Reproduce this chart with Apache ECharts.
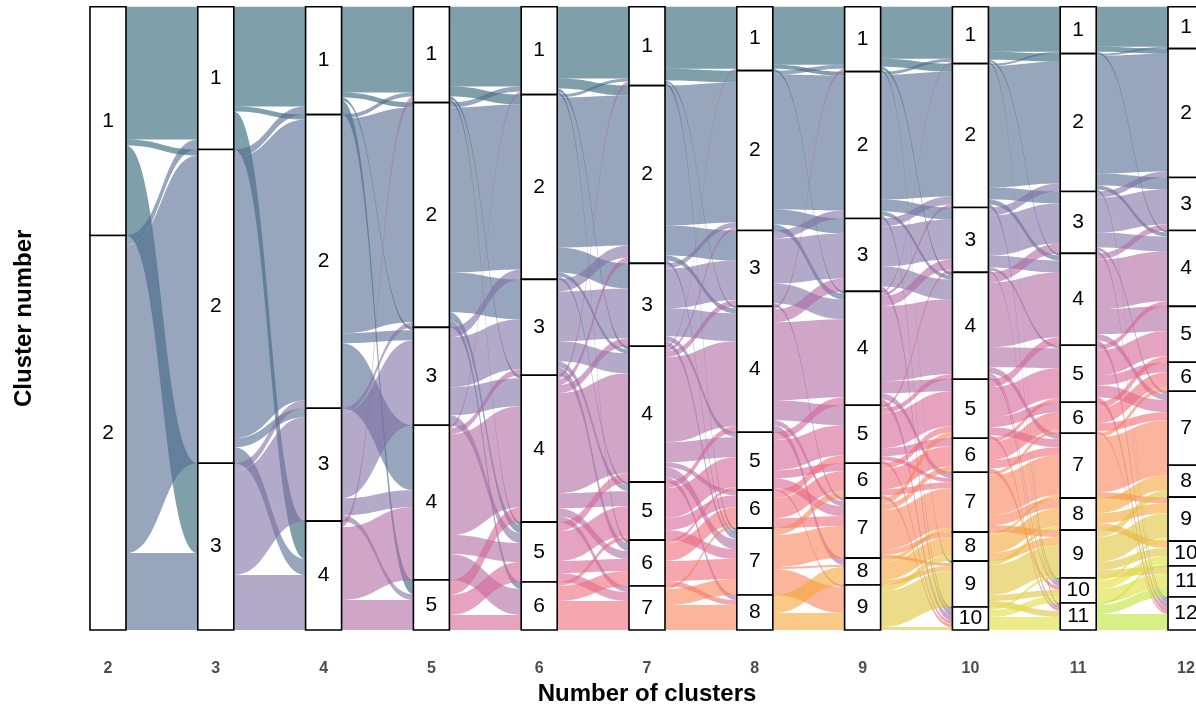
<!DOCTYPE html>
<html>
<head>
<meta charset="utf-8">
<script src="https://cdn.jsdelivr.net/npm/echarts@6/dist/echarts.min.js"></script>
<style>
html,body{margin:0;padding:0;background:#ffffff;}
#chart{width:1196px;height:707px;}
</style>
</head>
<body>
<div id="chart"></div>
<script>
// ---- Data ----
const clusterCounts = [2, 3, 4, 5, 6, 7, 8, 9, 10, 11, 12];

// cluster sizes per column (k = number of clusters)
const sizesK2  = [229, 395];
const sizesK3  = [143, 314, 167];
const sizesK4  = [108, 294, 113, 109];
const sizesK5  = [96, 225, 98, 155, 50];
const sizesK6  = [88, 185, 96, 147, 60, 48];
const sizesK7  = [79, 178, 83, 136, 58, 46, 44];
const sizesK8  = [64, 160, 76, 126, 58, 38, 67, 35];
const sizesK9  = [65, 147, 73, 114, 58, 35, 60, 27, 45];
const sizesK10 = [57, 144, 65, 107, 59, 34, 60, 29, 46, 23];
const sizesK11 = [47, 138, 62, 92, 57, 31, 65, 32, 48, 25, 27];
const sizesK12 = [42, 129, 53, 76, 56, 29, 74, 32, 44, 25, 31, 33];

// flows between adjacent columns: [from cluster, to cluster, count]
const flows2to3 = [[1,1,133],[1,2,6],[1,3,90],[2,1,10],[2,2,308],[2,3,77]];
const flows3to4 = [[1,1,100],[1,2,5],[1,4,38],[2,1,8],[2,2,281],[2,3,9],[2,4,16],[3,2,8],[3,3,104],[3,4,55]];
const flows4to5 = [[1,1,86],[1,2,5],[1,3,3],[1,5,14],[2,1,4],[2,2,215],[2,3,10],[2,4,65],[3,2,5],[3,3,85],[3,4,17],[3,5,6],[4,1,6],[4,4,73],[4,5,30]];
const flows5to6 = [[1,1,80],[1,2,10],[1,4,3],[1,5,3],[2,1,5],[2,2,165],[2,3,40],[2,5,8],[2,6,7],[3,2,10],[3,3,50],[3,4,28],[3,5,10],[4,1,3],[4,3,6],[4,4,101],[4,5,19],[4,6,26],[5,4,15],[5,5,20],[5,6,15]];
const flows6to7 = [[1,1,72],[1,2,10],[1,4,3],[1,6,3],[2,1,3],[2,2,150],[2,3,25],[2,4,4],[2,5,3],[3,2,12],[3,3,50],[3,4,20],[3,5,6],[3,6,8],[4,1,4],[4,2,6],[4,3,8],[4,4,100],[4,5,15],[4,6,8],[4,7,6],[5,4,9],[5,5,30],[5,6,12],[5,7,9],[6,5,4],[6,6,15],[6,7,29]];
const flows7to8 = [[1,1,62],[1,2,12],[1,4,2],[1,7,3],[2,2,140],[2,3,30],[2,4,5],[2,7,3],[3,2,5],[3,3,40],[3,4,28],[3,5,5],[3,7,5],[4,1,2],[4,2,3],[4,3,6],[4,4,85],[4,5,20],[4,6,5],[4,7,10],[4,8,5],[5,4,6],[5,5,30],[5,6,12],[5,7,10],[6,5,3],[6,6,18],[6,7,20],[6,8,5],[7,6,3],[7,7,16],[7,8,25]];
const flows8to9 = [[1,1,58],[1,2,4],[1,4,2],[2,1,4],[2,2,135],[2,3,15],[2,4,6],[3,2,8],[3,3,45],[3,4,20],[3,7,3],[4,1,3],[4,3,13],[4,4,78],[4,5,20],[4,7,5],[4,8,7],[5,4,8],[5,5,30],[5,6,8],[5,7,10],[5,9,2],[6,5,8],[6,6,20],[6,7,10],[7,6,7],[7,7,32],[7,8,2],[7,9,26],[8,8,18],[8,9,17]];
const flows9to10 = [[1,1,52],[1,2,8],[1,4,3],[1,9,2],[2,1,3],[2,2,125],[2,3,12],[2,4,4],[2,10,3],[3,2,8],[3,3,40],[3,4,20],[3,10,5],[4,1,2],[4,2,3],[4,3,10],[4,4,75],[4,5,12],[4,7,6],[4,10,6],[5,3,3],[5,4,5],[5,5,35],[5,6,8],[5,7,4],[5,10,3],[6,5,6],[6,6,20],[6,7,6],[6,10,3],[7,5,6],[7,6,6],[7,7,40],[7,8,5],[7,9,3],[8,7,4],[8,8,18],[8,9,5],[9,8,6],[9,9,36],[9,10,3]];
const flows10to11 = [[1,1,45],[1,2,8],[1,4,2],[1,11,2],[2,1,2],[2,2,122],[2,3,12],[2,4,5],[2,10,3],[3,2,8],[3,3,40],[3,4,12],[3,5,3],[3,10,2],[4,3,10],[4,4,65],[4,5,20],[4,7,6],[4,10,3],[4,11,3],[5,4,8],[5,5,30],[5,6,10],[5,7,8],[5,11,3],[6,5,4],[6,6,18],[6,7,8],[6,10,4],[7,6,3],[7,7,40],[7,8,10],[7,9,7],[8,7,3],[8,8,18],[8,9,8],[9,8,4],[9,9,30],[9,10,6],[9,11,6],[10,9,3],[10,10,7],[10,11,13]];
const flows11to12 = [[1,1,40],[1,2,5],[1,4,2],[2,1,2],[2,2,118],[2,3,12],[2,4,4],[2,12,2],[3,2,6],[3,3,35],[3,4,15],[3,7,3],[3,12,3],[4,3,6],[4,4,50],[4,5,25],[4,7,6],[4,12,5],[5,4,5],[5,5,25],[5,6,10],[5,7,12],[5,12,5],[6,5,6],[6,6,15],[6,7,8],[6,12,2],[7,6,4],[7,7,45],[7,8,10],[7,9,6],[8,8,15],[8,9,10],[8,10,7],[9,8,7],[9,9,25],[9,10,8],[9,11,8],[10,9,3],[10,10,8],[10,11,14],[11,10,2],[11,11,9],[11,12,16]];

// flow colour by source cluster number
const clusterPalette = ['#2a5f71','#526b91','#8070a5','#af69a3','#d46696','#ee6b78','#f8845a','#f5a537','#dfc53c','#dede39','#bee335','#a8dc3a'];

// ---- Build structures for the library ----
const sizes = {2:sizesK2,3:sizesK3,4:sizesK4,5:sizesK5,6:sizesK6,7:sizesK7,8:sizesK8,9:sizesK9,10:sizesK10,11:sizesK11,12:sizesK12};
const flows = {2:flows2to3,3:flows3to4,4:flows4to5,5:flows5to6,6:flows6to7,7:flows7to8,8:flows8to9,9:flows9to10,10:flows10to11,11:flows11to12};
const total = sizesK2.reduce((a,b)=>a+b,0);

const starts = {};
clusterCounts.forEach(k => {
  let acc = 0;
  starts[k] = sizes[k].map(s => { const a = acc; acc += s; return a; });
});

const boxData = [];
clusterCounts.forEach(k => {
  sizes[k].forEach((s, i) => boxData.push([k, starts[k][i], starts[k][i] + s, i + 1]));
});

const flowData = [];
clusterCounts.slice(0, -1).forEach(k => {
  const list = flows[k];
  const srcPos = {}, tgtPos = {};
  const bySrc = list.map((f, idx) => ({f, idx})).sort((a, b) => a.f[0] - b.f[0] || a.f[1] - b.f[1]);
  const srcOff = {};
  bySrc.forEach(({f, idx}) => {
    const o = srcOff[f[0]] || 0;
    srcPos[idx] = starts[k][f[0] - 1] + o;
    srcOff[f[0]] = o + f[2];
  });
  const byTgt = list.map((f, idx) => ({f, idx})).sort((a, b) => a.f[1] - b.f[1] || a.f[0] - b.f[0]);
  const tgtOff = {};
  byTgt.forEach(({f, idx}) => {
    const o = tgtOff[f[1]] || 0;
    tgtPos[idx] = starts[k + 1][f[1] - 1] + o;
    tgtOff[f[1]] = o + f[2];
  });
  list.forEach((f, idx) => {
    flowData.push([k, srcPos[idx], srcPos[idx] + f[2], tgtPos[idx], tgtPos[idx] + f[2], f[0]]);
  });
});

function hexToRgba(hex, a) {
  const n = parseInt(hex.slice(1), 16);
  return 'rgba(' + ((n >> 16) & 255) + ',' + ((n >> 8) & 255) + ',' + (n & 255) + ',' + a + ')';
}

const boxHalf = 0.167;
const FONT = '"Liberation Sans", Arial, Helvetica, sans-serif';

const chart = echarts.init(document.getElementById('chart'), null, {renderer: 'canvas'});
chart.setOption({
  animation: false,
  backgroundColor: '#ffffff',
  grid: {left: 43.3, right: -54.7, top: 6.7, bottom: 77, containLabel: false, outerBoundsMode: 'none'},
  xAxis: {
    type: 'value', min: 1.4, max: 12.6,
    axisLine: {show: false}, axisTick: {show: false}, splitLine: {show: false},
    axisLabel: {
      customValues: clusterCounts,
      formatter: v => String(v),
      color: '#4d4d4d', fontWeight: 'bold', fontSize: 16, fontFamily: FONT, margin: 31
    },
    name: 'Number of clusters', nameLocation: 'middle', nameGap: 50,
    nameTextStyle: {fontSize: 24, fontWeight: 'bold', color: '#000', fontFamily: FONT}
  },
  yAxis: {
    type: 'value', inverse: true, min: 0, max: total,
    axisLine: {show: false}, axisTick: {show: false}, splitLine: {show: false},
    axisLabel: {show: false},
    name: 'Cluster number', nameLocation: 'middle', nameGap: 7,
    nameTextStyle: {fontSize: 24, fontWeight: 'bold', color: '#000', fontFamily: FONT}
  },
  series: [
    {
      type: 'custom', name: 'flows', z: 1, silent: true,
      data: flowData,
      renderItem: function (params, api) {
        const k = api.value(0);
        const p0 = api.coord([k + boxHalf, api.value(1)]);
        const p1 = api.coord([k + boxHalf, api.value(2)]);
        const q0 = api.coord([k + 1 - boxHalf, api.value(3)]);
        const q1 = api.coord([k + 1 - boxHalf, api.value(4)]);
        const xm = (p0[0] + q0[0]) / 2;
        const d = 'M' + p0[0] + ',' + p0[1] +
          ' C' + xm + ',' + p0[1] + ' ' + xm + ',' + q0[1] + ' ' + q0[0] + ',' + q0[1] +
          ' L' + q1[0] + ',' + q1[1] +
          ' C' + xm + ',' + q1[1] + ' ' + xm + ',' + p1[1] + ' ' + p1[0] + ',' + p1[1] + ' Z';
        return {
          type: 'path',
          shape: {pathData: d},
          style: {fill: hexToRgba(clusterPalette[api.value(5) - 1], 0.6)}
        };
      }
    },
    {
      type: 'custom', name: 'clusters', z: 2, silent: true,
      data: boxData,
      renderItem: function (params, api) {
        const k = api.value(0);
        const tl = api.coord([k - boxHalf, api.value(1)]);
        const br = api.coord([k + boxHalf, api.value(2)]);
        return {
          type: 'group',
          children: [
            {type: 'rect', shape: {x: tl[0], y: tl[1], width: br[0] - tl[0], height: br[1] - tl[1]},
             style: {fill: '#ffffff', stroke: '#000000', lineWidth: 1.6}},
            {type: 'text', style: {text: String(api.value(3)), x: (tl[0] + br[0]) / 2, y: (tl[1] + br[1]) / 2,
             align: 'center', verticalAlign: 'middle', fill: '#000000', fontSize: 21, fontFamily: FONT}}
          ]
        };
      }
    }
  ]
});
</script>
</body>
</html>
